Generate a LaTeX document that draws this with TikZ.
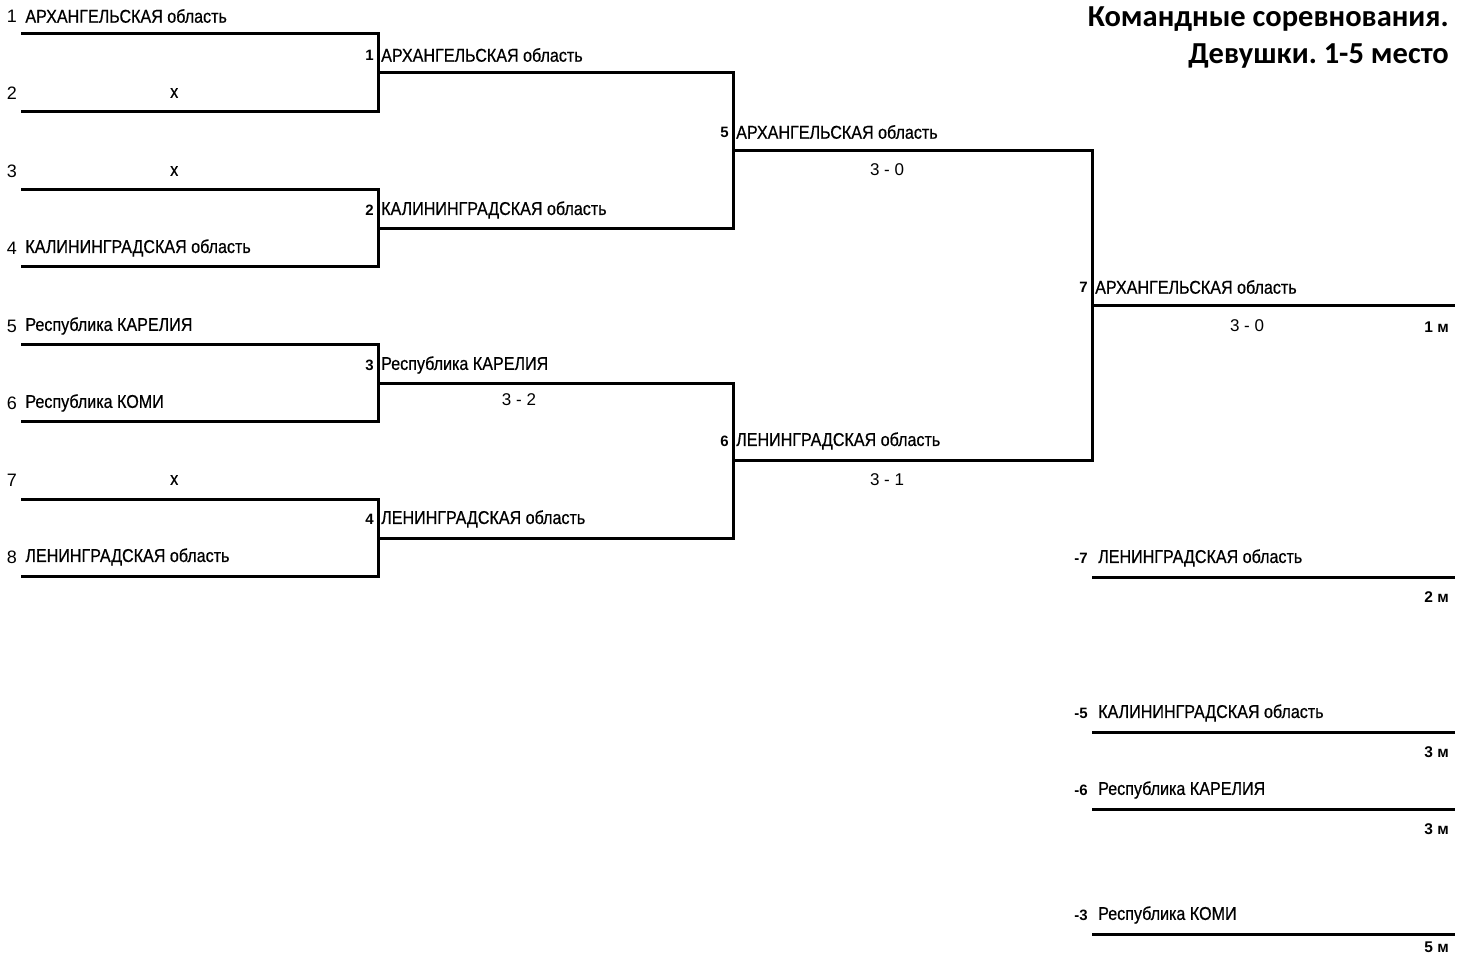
\documentclass[tikz,border=0pt]{standalone}
\usepackage{fontspec}
\setmainfont{Liberation Sans}
\newfontfamily\namefont[FakeStretch=0.87, FakeBold=0.6]{Liberation Sans}
\newfontfamily\titlefont{Carlito}
\usetikzlibrary{positioning}
\frenchspacing

\begin{document}
\begin{tikzpicture}[
        x=1pt, y=-1pt,
        bracket/.style={line width=3pt, line cap=rect},
        team/.style={anchor=west, inner sep=0pt, font=\namefont\fontsize{18.5}{20}\selectfont},
        seed/.style={inner sep=0pt, font=\fontsize{18}{20}\selectfont},
        rnd/.style={anchor=east, inner sep=0pt, font=\bfseries\fontsize{15}{17}\selectfont},
        score/.style={inner sep=0pt, font=\fontsize{17}{19}\selectfont},
        place/.style={anchor=east, inner sep=0pt, font=\bfseries\fontsize{15.5}{17}\selectfont}
    ]
        \useasboundingbox (0,0) rectangle (1464,956);

        % Title
        \node[anchor=east, inner sep=0pt, font=\titlefont\bfseries\fontsize{30.5}{33}\selectfont] (title1) at (1449,19) {Командные соревнования.};
        \node[anchor=east, inner sep=0pt, font=\titlefont\bfseries\fontsize{30.5}{33}\selectfont] (title2) at (1449,56) {Девушки. 1-5 место};

        % Line ends
        \foreach \i/\y in {1/33, 2/111, 3/189, 4/266, 5/344, 6/421, 7/499, 8/576}
            \coordinate (s\i) at (22,\y);
        \coordinate (w1) at (378,72);
        \coordinate (w2) at (378,228);
        \coordinate (w3) at (378,383);
        \coordinate (w4) at (378,538);
        \coordinate (w5) at (733,150);
        \coordinate (w6) at (733,460);
        \coordinate (w7) at (1092,305);
        \coordinate (f7) at (1453,305);

        % Brackets
        \draw[bracket] (s1) -| (w1) |- (s2);
        \draw[bracket] (s3) -| (w2) |- (s4);
        \draw[bracket] (s5) -| (w3) |- (s6);
        \draw[bracket] (s7) -| (w4) |- (s8);
        \draw[bracket] (w1) -| (w5) |- (w2);
        \draw[bracket] (w3) -| (w6) |- (w4);
        \draw[bracket] (w5) -| (w7) |- (w6);
        \draw[bracket] (w7) -- (f7);

        % Seeds
        \node[seed] (n1) at (12,16) {1};
        \node[team, right=8pt of n1] (t1) {АРХАНГЕЛЬСКАЯ область};
        \node[seed] (n2) at (12,93) {2};
        \node[team] (t2) at (170,93) {x};
        \node[seed] (n3) at (12,171) {3};
        \node[team] (t3) at (170,171) {x};
        \node[seed] (n4) at (12,248) {4};
        \node[team, right=8pt of n4] (t4) {КАЛИНИНГРАДСКАЯ область};
        \node[seed] (n5) at (12,326) {5};
        \node[team, right=8pt of n5] (t5) {Республика КАРЕЛИЯ};
        \node[seed] (n6) at (12,403) {6};
        \node[team, right=8pt of n6] (t6) {Республика КОМИ};
        \node[seed] (n7) at (12,480) {7};
        \node[team] (t7) at (170,480) {x};
        \node[seed] (n8) at (12,557) {8};
        \node[team, right=8pt of n8] (t8) {ЛЕНИНГРАДСКАЯ область};

        % Round 1
        \node[rnd] (g1) at (374,55) {1};
        \node[team, right=7pt of g1] (m1) {АРХАНГЕЛЬСКАЯ область};
        \node[rnd] (g2) at (374,210) {2};
        \node[team, right=7pt of g2] (m2) {КАЛИНИНГРАДСКАЯ область};
        \node[rnd] (g3) at (374,365) {3};
        \node[team, right=7pt of g3] (m3) {Республика КАРЕЛИЯ};
        \node[score] (c3) at (519,400) {3 - 2};
        \node[rnd] (g4) at (374,519) {4};
        \node[team, right=7pt of g4] (m4) {ЛЕНИНГРАДСКАЯ область};

        % Round 2
        \node[rnd] (g5) at (729,132) {5};
        \node[team, right=7pt of g5] (m5) {АРХАНГЕЛЬСКАЯ область};
        \node[score] (c5) at (887,170) {3 - 0};
        \node[rnd] (g6) at (729,441) {6};
        \node[team, right=7pt of g6] (m6) {ЛЕНИНГРАДСКАЯ область};
        \node[score] (c6) at (887,480) {3 - 1};

        % Final
        \node[rnd] (g7) at (1088,287) {7};
        \node[team, right=7pt of g7] (m7) {АРХАНГЕЛЬСКАЯ область};
        \node[score] (c7) at (1247,326) {3 - 0};
        \node[place] (pl1) at (1449,327) {1 м};

        % Places
        \foreach \g/\name/\y/\m/\d in {7/ЛЕНИНГРАДСКАЯ область/577/2/20,
                                       5/КАЛИНИНГРАДСКАЯ область/732/3/20,
                                       6/Республика КАРЕЛИЯ/809/3/20,
                                       3/Республика КОМИ/934/5/13}{
            \coordinate (a\g) at (1093,\y);
            \coordinate (b\g) at (1453,\y);
            \draw[bracket] (a\g) -- (b\g);
            \node[rnd] (q\g) at (1088,\y-19) {-\g};
            \node[team, right=10pt of q\g] (r\g) {\name};
            \node[place] (pm\g) at (1449,\y+\d) {\m\ м};
        }
    \end{tikzpicture}
\end{document}
